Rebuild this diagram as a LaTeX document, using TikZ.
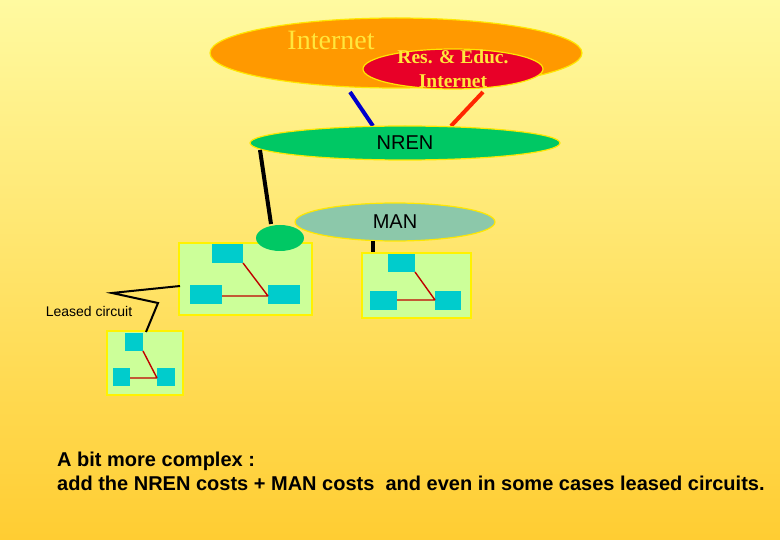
\documentclass[tikz,border=0pt]{standalone}
\usepackage{fontspec}
\setmainfont{Liberation Serif}
\setsansfont{Liberation Sans}
\definecolor{bgtop}{RGB}{255,250,160}
\definecolor{bgbot}{RGB}{255,205,50}
\definecolor{inetc}{RGB}{255,153,0}
\definecolor{rec}{RGB}{232,0,40}
\definecolor{nrenc}{RGB}{0,200,100}
\definecolor{manc}{RGB}{140,200,170}
\definecolor{lanc}{RGB}{204,255,153}
\definecolor{hostc}{RGB}{0,204,204}
\definecolor{txty}{RGB}{255,230,60}
\begin{document}
\begin{tikzpicture}[x=1pt,y=-1pt,
  cloud/.style={draw=yellow!90!orange,line width=1.2pt},
  lan/.style={fill=lanc,draw=yellow,line width=1.5pt},
  host/.style={fill=hostc},
  wire/.style={draw=red!75!black,line width=1.4pt},
  link/.style={line width=4pt,draw=black}]
\shade[top color=bgtop,bottom color=bgbot] (0,0) rectangle (780,540);
\useasboundingbox (0,0) rectangle (780,540);
% clouds
\draw[cloud,fill=inetc] (396,53) ellipse [x radius=186,y radius=35];
\node[text=txty,font=\fontsize{28}{30}\selectfont] (inet) at (331,40) {Internet};
\draw[cloud,fill=rec] (453,69) ellipse [x radius=90,y radius=20];
\node[text=txty,font=\bfseries\fontsize{19.5}{24}\selectfont,align=center] (re) at (453,69) {Res. \& Educ.\\Internet};
\draw[line width=4pt,blue!80!black] (350,92) -- (373,126);
\draw[line width=4pt,red!70!orange] (483,92) -- (451,126);
\draw[cloud,fill=nrenc] (405,143) ellipse [x radius=155,y radius=17];
\node[font=\sffamily\fontsize{20}{22}\selectfont] (nren) at (405,143) {NREN};
\draw[link] (260,150) -- (271,224);
\draw[cloud,fill=manc] (395,222) ellipse [x radius=100,y radius=19];
\node[font=\sffamily\fontsize{20}{22}\selectfont] (man) at (395,222) {MAN};
\draw[link] (373,241) -- (373,253);
% box 1
\draw[lan] (179,243) rectangle (312,315);
\fill[nrenc] (280,238) ellipse [x radius=24,y radius=13];
\fill[host] (212,244) rectangle (243,263);
\fill[host] (190,285) rectangle (222,304);
\fill[host] (268,285) rectangle (300,304);
\draw[wire] (243,263) -- (268,296) (222,296) -- (268,296);
% box 2
\draw[lan] (362,253) rectangle (471,318);
\fill[host] (388,254) rectangle (415,272);
\fill[host] (370,291) rectangle (397,310);
\fill[host] (435,291) rectangle (461,310);
\draw[wire] (415,272) -- (435,300) (397,300) -- (435,300);
% box 3
\draw[lan] (107,331) rectangle (183,395);
\fill[host] (125,333) rectangle (143,351);
\fill[host] (113,368) rectangle (130,386);
\fill[host] (157,368) rectangle (175,386);
\draw[wire] (143,351) -- (157,378) (130,378) -- (157,378);
% leased circuit
\draw[line width=2pt] (180,286) -- (112,293) -- (158,303) -- (146,332);
\node[font=\sffamily\fontsize{14}{16}\selectfont] (lc) at (89,311) {Leased circuit};
\node[font=\sffamily\bfseries\fontsize{20}{24}\selectfont,align=left,anchor=north west,inner sep=0pt] (txt) at (57,452) {A bit more complex :\\add the NREN costs + MAN costs\ \ and even in some cases leased circuits.};
\end{tikzpicture}
\end{document}
